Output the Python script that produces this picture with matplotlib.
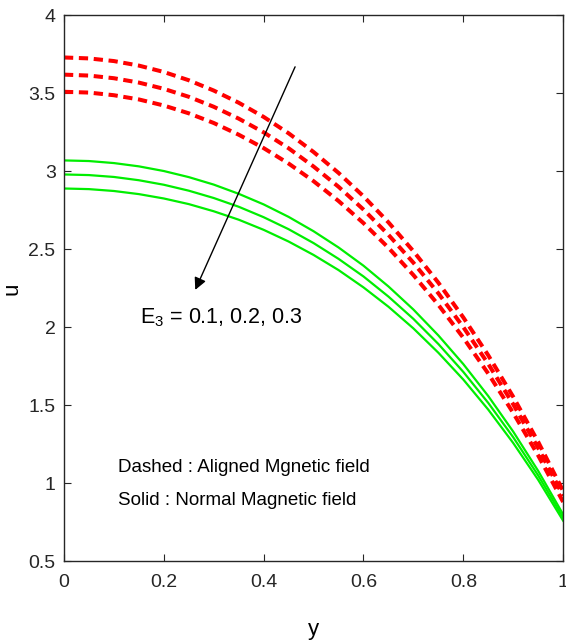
import matplotlib
matplotlib.use("Agg")
import matplotlib.pyplot as plt

plt.rcParams["font.family"] = ["Liberation Sans", "DejaVu Sans"]
plt.rcParams["mathtext.fontset"] = "custom"
plt.rcParams["mathtext.rm"] = "Liberation Sans"
plt.rcParams["mathtext.it"] = "Liberation Sans"

# Velocity profiles u(y) for E3 = 0.1, 0.2, 0.3
y = [0.0, 0.05, 0.1, 0.15, 0.2, 0.25, 0.3, 0.35, 0.4, 0.45, 0.5,
     0.55, 0.6, 0.65, 0.7, 0.75, 0.8, 0.85, 0.9, 0.95, 1.0]

# aligned magnetic field (dashed)
u_aligned_1 = [3.730, 3.724, 3.707, 3.678, 3.637, 3.584, 3.518, 3.440, 3.349, 3.244, 3.124,
               2.990, 2.840, 2.673, 2.488, 2.286, 2.063, 1.820, 1.554, 1.265, 0.950]
u_aligned_2 = [3.620, 3.614, 3.597, 3.569, 3.529, 3.478, 3.414, 3.338, 3.250, 3.148, 3.031,
               2.901, 2.755, 2.593, 2.414, 2.218, 2.001, 1.765, 1.506, 1.226, 0.920]
u_aligned_3 = [3.510, 3.505, 3.488, 3.461, 3.422, 3.372, 3.310, 3.235, 3.149, 3.050, 2.937,
               2.810, 2.668, 2.510, 2.335, 2.144, 1.933, 1.703, 1.451, 1.178, 0.880]

# normal magnetic field (solid)
u_normal_1 = [3.070, 3.066, 3.053, 3.032, 3.002, 2.963, 2.915, 2.856, 2.788, 2.708, 2.616,
              2.512, 2.395, 2.262, 2.114, 1.948, 1.764, 1.559, 1.331, 1.079, 0.800]
u_normal_2 = [2.980, 2.976, 2.964, 2.943, 2.914, 2.876, 2.829, 2.773, 2.706, 2.629, 2.540,
              2.439, 2.326, 2.197, 2.054, 1.893, 1.714, 1.515, 1.295, 1.050, 0.780]
u_normal_3 = [2.890, 2.886, 2.874, 2.854, 2.826, 2.790, 2.744, 2.690, 2.625, 2.550, 2.464,
              2.367, 2.256, 2.132, 1.993, 1.837, 1.665, 1.472, 1.258, 1.022, 0.760]

x_ticks = [0, 0.2, 0.4, 0.6, 0.8, 1]
x_tick_labels = ["0", "0.2", "0.4", "0.6", "0.8", "1"]
y_ticks = [0.5, 1, 1.5, 2, 2.5, 3, 3.5, 4]
y_tick_labels = ["0.5", "1", "1.5", "2", "2.5", "3", "3.5", "4"]

fig = plt.figure(figsize=(5.66, 6.4), dpi=100)
ax = fig.add_axes([0.113, 0.123, 0.882, 0.853])

red = "#ff0000"
green = "#00ee00"
for u in (u_aligned_1, u_aligned_2, u_aligned_3):
    ax.plot(y, u, color=red, lw=2.9, dashes=(2.3, 1.4), solid_capstyle="butt")
for u in (u_normal_1, u_normal_2, u_normal_3):
    ax.plot(y, u, color=green, lw=1.6)

ax.set_xlim(0, 1)
ax.set_ylim(0.5, 4)
ax.set_xticks(x_ticks)
ax.set_xticklabels(x_tick_labels)
ax.set_yticks(y_ticks)
ax.set_yticklabels(y_tick_labels)
ax.tick_params(direction="in", length=5, width=0.8, labelsize=14,
               top=True, right=True, colors="#262626")
ax.tick_params(axis="y", pad=6)
ax.tick_params(axis="x", pad=9)
for s in ax.spines.values():
    s.set_linewidth(1.0)
    s.set_color("#262626")

ax.set_xlabel("y", fontsize=16)
ax.set_ylabel("u", fontsize=16)
ax.xaxis.set_label_coords(0.5, -0.105)
ax.yaxis.set_label_coords(-0.084, 0.5)

# Arrow showing increasing E3
ax.annotate("", xy=(0.263, 2.24), xytext=(0.463, 3.67),
            arrowprops=dict(arrowstyle="-|>", color="black", lw=1.0,
                            mutation_scale=18, shrinkA=0, shrinkB=0))
ax.text(0.152, 2.026, r"E$_3$ = 0.1, 0.2, 0.3", fontsize=15.5, va="baseline")

ax.text(0.108, 1.07, "Dashed : Aligned Mgnetic field", fontsize=13.5, va="baseline")
ax.text(0.108, 0.859, "Solid : Normal Magnetic field", fontsize=13.5, va="baseline")

fig.savefig("out.png", dpi=100)
